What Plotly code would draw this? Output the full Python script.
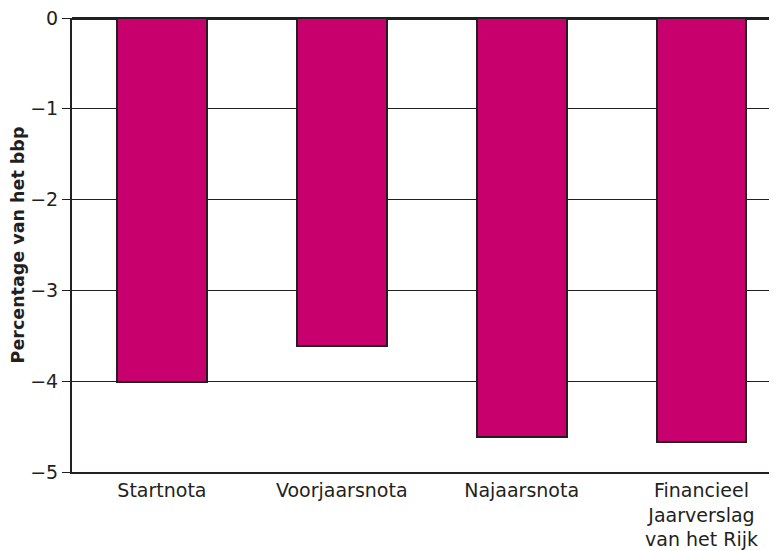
import plotly.graph_objects as go

categories = ["Startnota", "Voorjaarsnota", "Najaarsnota", "Financieel<br>Jaarverslag<br>van het Rijk"]
values = [-4.01, -3.61, -4.61, -4.67]
tick_vals = [0, -1, -2, -3, -4, -5]
tick_text = ["0", "\u22121", "\u22122", "\u22123", "\u22124", "\u22125"]

fig = go.Figure()
fig.add_trace(go.Bar(
    x=[0, 1, 2, 3], y=values, width=0.5,
    marker=dict(color="#C8006E", line=dict(color="#231F20", width=2)),
))
fig.update_layout(
    width=769, height=543,
    margin=dict(l=64, r=0, t=10, b=79, autoexpand=False),
    plot_bgcolor="white", paper_bgcolor="white",
    font=dict(family="DejaVu Sans, Liberation Sans, Arial, sans-serif", size=19, color="#231F20"),
    showlegend=False,
    bargap=0,
)
fig.update_xaxes(
    range=[-0.5, 3.42], tickvals=[0, 1, 2, 3], ticktext=categories,
    showgrid=False, showline=True, linecolor="#231F20", linewidth=2,
    ticks="", zeroline=False, tickfont=dict(size=19), ticklabeloverflow="allow",
)
fig.update_yaxes(
    range=[-5, 0], tickvals=tick_vals, ticktext=tick_text,
    showgrid=True, gridcolor="#231F20", gridwidth=1,
    showline=True, linecolor="#231F20", linewidth=2,
    ticks="outside", ticklen=8, tickcolor="#231F20", tickwidth=1,
    zeroline=True, zerolinecolor="#231F20", zerolinewidth=3,
    title=dict(text="<b>Percentage van het bbp</b>", font=dict(size=17.5), standoff=3),
    tickfont=dict(size=19), ticklabeloverflow="allow",
)
fig.write_html("out.html")
